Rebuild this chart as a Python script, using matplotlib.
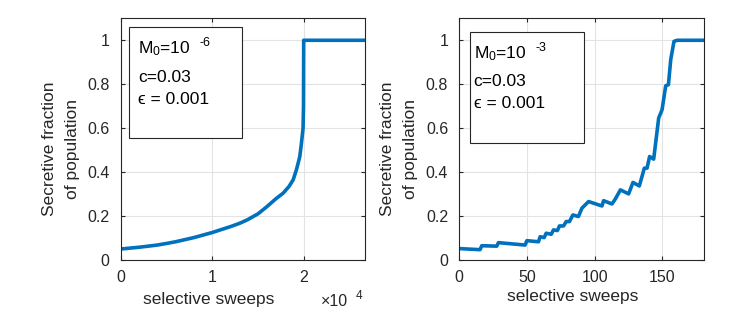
import matplotlib
matplotlib.use("Agg")
import matplotlib.pyplot as plt
from matplotlib.patches import Rectangle

plt.rcParams['font.family'] = ['Liberation Sans', 'DejaVu Sans']
plt.rcParams['mathtext.fontset'] = 'custom'
plt.rcParams['mathtext.rm'] = 'Liberation Sans'
plt.rcParams['mathtext.it'] = 'Liberation Sans:italic'

# ---- data ----
left_x = [0, 2000, 4000, 5100, 6000, 8000, 10000, 12000, 13000, 13850, 15000, 15900,
          17000, 17750, 18400, 18850, 19200, 19570, 19750, 19930, 19980, 20000, 26700]
left_y = [0.05, 0.058, 0.068, 0.076, 0.083, 0.102, 0.125, 0.152, 0.167, 0.183, 0.21, 0.24,
          0.28, 0.304, 0.335, 0.365, 0.41, 0.47, 0.53, 0.60, 0.70, 1.0, 1.0]

right_x = [0, 15.3, 16.6, 27.7, 28.9, 48.6, 49.9, 58.5, 59.7, 62.7, 64.2, 67.9, 69.6,
           72.5, 74, 77, 79, 81.4, 83.9, 88, 90.6, 95.5, 105.4, 106.6, 112.8, 115.2,
           119, 125.1, 128.3, 133, 136.7, 138.7, 140.6, 143.6, 147.3, 149.8, 152.5,
           154.5, 156.2, 158.6, 161, 181]
right_y = [0.052, 0.047, 0.065, 0.063, 0.079, 0.068, 0.088, 0.083, 0.106, 0.102, 0.122,
           0.117, 0.137, 0.134, 0.155, 0.155, 0.175, 0.175, 0.205, 0.198, 0.236, 0.266,
           0.246, 0.27, 0.255, 0.277, 0.319, 0.301, 0.353, 0.337, 0.418, 0.418, 0.471,
           0.459, 0.646, 0.684, 0.793, 0.798, 0.912, 0.995, 1.0, 1.0]

left_xticks = [0, 10000, 20000]
left_xticklabels = ['0', '1', '2']
right_xticks = [0, 50, 100, 150]
yticks = [0, 0.2, 0.4, 0.6, 0.8, 1]
yticklabels = ['0', '0.2', '0.4', '0.6', '0.8', '1']

left_exp = "-6"
right_exp = "-3"
box_lines = ["c=0.03", "\u03f5 = 0.001"]

W, H = 744, 312
fig = plt.figure(figsize=(W / 100, H / 100), dpi=100)

line_color = '#0072BD'
dark = '#262626'
fs_tick = 11.5
fs_lab = 12.5
fs_box = 12.5


def make_ax(x0, x1, y0, y1):
    return fig.add_axes([x0 / W, 1 - y1 / H, (x1 - x0) / W, (y1 - y0) / H])


def style(ax):
    ax.set_ylim(0, 1.1)
    ax.set_yticks(yticks)
    ax.set_yticklabels(yticklabels)
    ax.grid(True, color='#e3e3e3', linewidth=0.8)
    ax.set_axisbelow(True)
    ax.tick_params(direction='in', length=3, width=0.8, colors=dark, labelsize=fs_tick,
                   top=True, right=True)
    ax.tick_params(axis='y', pad=8)
    ax.tick_params(axis='x', pad=7)
    for s in ax.spines.values():
        s.set_color(dark)
        s.set_linewidth(0.8)


axL = make_ax(120.7, 365, 18.3, 260)
axL.plot(left_x, left_y, color=line_color, linewidth=2.6, solid_joinstyle='round')
axL.set_xlim(0, 26700)
axL.set_xticks(left_xticks)
axL.set_xticklabels(left_xticklabels)
style(axL)

axR = make_ax(459.3, 704.3, 18.3, 260)
axR.plot(right_x, right_y, color=line_color, linewidth=2.6, solid_joinstyle='round')
axR.set_xlim(0, 181)
axR.set_xticks(right_xticks)
style(axR)


def ftext(x, y, s, **kw):
    return fig.text(x / W, 1 - y / H, s, **kw)


# y labels
for cx1, cx2 in [(50, 73), (388, 411)]:
    ftext(cx1, 149, "Secretive fraction", rotation=90, ha='center', va='center',
          fontsize=fs_lab, color=dark)
    ftext(cx2, 149, "of population", rotation=90, ha='center', va='center',
          fontsize=fs_lab, color=dark)

# x labels
ftext(209, 304, "selective sweeps", ha='center', va='baseline', fontsize=fs_lab, color=dark)
ftext(573, 301.5, "selective sweeps", ha='center', va='baseline', fontsize=fs_lab, color=dark)
ftext(321, 306.5, "\u00d710", ha='left', va='baseline', fontsize=fs_tick, color=dark)
ftext(356, 299, "4", ha='left', va='baseline', fontsize=8.5, color=dark)


def box(bx0, bx1, by0, by1, tx, baselines, exp, exp_x):
    r = Rectangle((bx0 / W, 1 - by1 / H), (bx1 - bx0) / W, (by1 - by0) / H,
                  transform=fig.transFigure, facecolor='white', edgecolor=dark,
                  linewidth=0.8, zorder=5)
    fig.add_artist(r)
    ftext(tx, baselines[0], r"M$_0$=10", ha='left', va='baseline', fontsize=fs_box,
          color='black', zorder=6)
    ftext(exp_x, baselines[0] - 7, exp, ha='left', va='baseline', fontsize=9,
          color='black', zorder=6)
    for b, t in zip(baselines[1:], box_lines):
        ftext(tx, b, t, ha='left', va='baseline', fontsize=fs_box, color='black', zorder=6)


box(129.3, 242.3, 27, 138, 138, [53.5, 82.3, 104], left_exp, 199)
box(469.7, 583.7, 31.7, 143, 473.7, [58, 86.3, 108], right_exp, 535)

fig.savefig("out.png", dpi=100)
